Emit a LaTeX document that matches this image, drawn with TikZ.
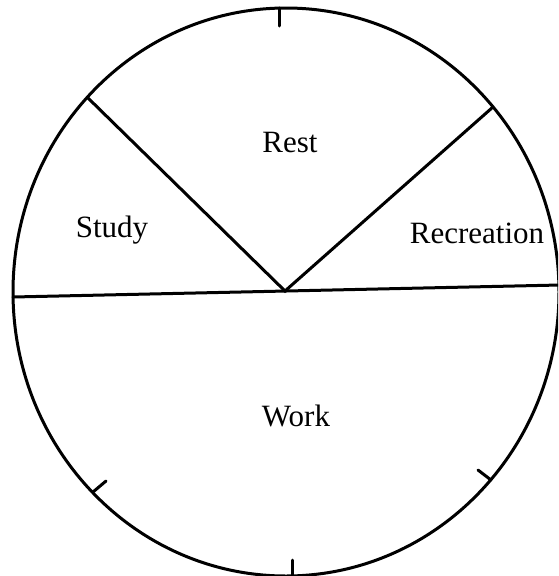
\documentclass[tikz,border=0pt]{standalone}
\usepackage{fontspec}
\setmainfont{Liberation Serif}
\begin{document}
\begin{tikzpicture}[x=1pt,y=-1pt,
  rim/.style={line width=3pt,line cap=round},
  lbl/.style={font=\fontsize{31}{36}\selectfont,inner sep=0pt}]
\useasboundingbox (0,0) rectangle (558,576);
\clip (0,0) rectangle (558,576);
\coordinate (c) at (286,292);
\draw[rim] (c) ellipse [x radius=273, y radius=284];
\coordinate (L) at (13,297);
\coordinate (R) at (560,285);
\coordinate (V) at (285,291);
\coordinate (A) at (88,98);
\coordinate (B) at (493,107);
\draw[rim] (L) -- (R);
\draw[rim] (A) -- (V) -- (B);
% ticks
\coordinate (t1a) at (279,8); \coordinate (t1b) at (279,26);
\coordinate (t2a) at (292,575); \coordinate (t2b) at (292,560);
\coordinate (t3a) at (93,492); \coordinate (t3b) at (106,481);
\coordinate (t4a) at (491,480); \coordinate (t4b) at (478,470);
\draw[rim] (t1a) -- (t1b);
\draw[rim] (t2a) -- (t2b);
\draw[rim] (t3a) -- (t3b);
\draw[rim] (t4a) -- (t4b);
\node[lbl] (rest) at (290,142) {Rest};
\node[lbl] (study) at (112,230) {Study};
\node[lbl] (rec) at (477,233) {Recreation};
\node[lbl] (work) at (296,416) {Work};
\end{tikzpicture}
\end{document}
